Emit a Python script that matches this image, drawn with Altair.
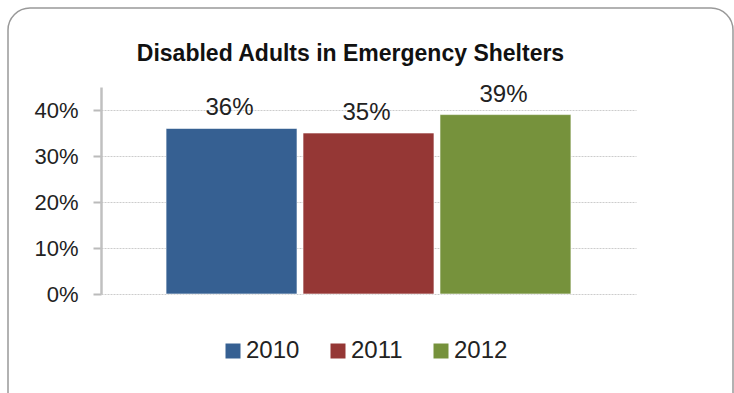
import altair as alt
import pandas as pd

years = ["2010", "2011", "2012"]
values = [0.36, 0.35, 0.39]
labels = ["36%", "35%", "39%"]
colors = ["#366092", "#953735", "#76923C"]

df = pd.DataFrame({"year": years, "value": values, "label": labels})

FONT = "Liberation Sans"

x_enc = alt.X("year:N", axis=None,
              scale=alt.Scale(paddingInner=0.044, paddingOuter=0.475))
y_scale = alt.Scale(domain=[0, 0.45], nice=False)
y_axis = alt.Axis(values=[0, 0.1, 0.2, 0.3, 0.4], format=".0%",
                  labelFontSize=22, labelFont=FONT, labelColor="#222222",
                  labelPadding=15, tickSize=8, tickColor="#bbbbbb",
                  tickWidth=2, domainColor="#c0c0c0", domainWidth=2.5,
                  grid=True, gridColor="#cccccc", gridDash=[2, 1],
                  gridWidth=1)

bars = alt.Chart(df).mark_bar(stroke="white", strokeWidth=1, strokeOpacity=0.6).encode(
    x=x_enc,
    y=alt.Y("value:Q", scale=y_scale, title=None, axis=y_axis),
    color=alt.Color("year:N", scale=alt.Scale(domain=years, range=colors),
                    legend=alt.Legend(title=None, orient="none", direction="horizontal",
                                      legendX=120, legendY=252,
                                      symbolType="square", symbolSize=225,
                                      symbolStrokeWidth=0,
                                      labelFontSize=24, labelFont=FONT,
                                      labelColor="#222222", labelOffset=1,
                                      columnPadding=26)),
)

text = alt.Chart(df).mark_text(dy=-13, dx=-2, fontSize=24, font=FONT, color="#222222",
                               baseline="alphabetic").encode(
    x=x_enc,
    y=alt.Y("value:Q", scale=y_scale, title=None, axis=y_axis),
    text="label:N",
)

frame = alt.Chart(pd.DataFrame({"a": [0]})).mark_rect(
    fill=None, stroke="#999999", strokeWidth=1.5, cornerRadius=22
).encode(
    x=alt.value(-93), x2=alt.value(632), y=alt.value(-79), y2=alt.value(330)
)

chart = alt.layer(frame, bars, text).properties(
    width=535, height=207,
    background="white",
    title=alt.TitleParams("Disabled Adults in Emergency Shelters", fontSize=23,
                          font=FONT, fontWeight="bold", color="#111111",
                          anchor="middle", dx=-18, offset=0, dy=77,
                          baseline="alphabetic"),
    autosize=alt.AutoSizeParams(type="none"),
    padding={"left": 101, "top": 87, "right": 98, "bottom": 99},
).configure_view(stroke="transparent", strokeWidth=0)

chart.save("out.html", embed_options={"renderer": "svg", "actions": False})
